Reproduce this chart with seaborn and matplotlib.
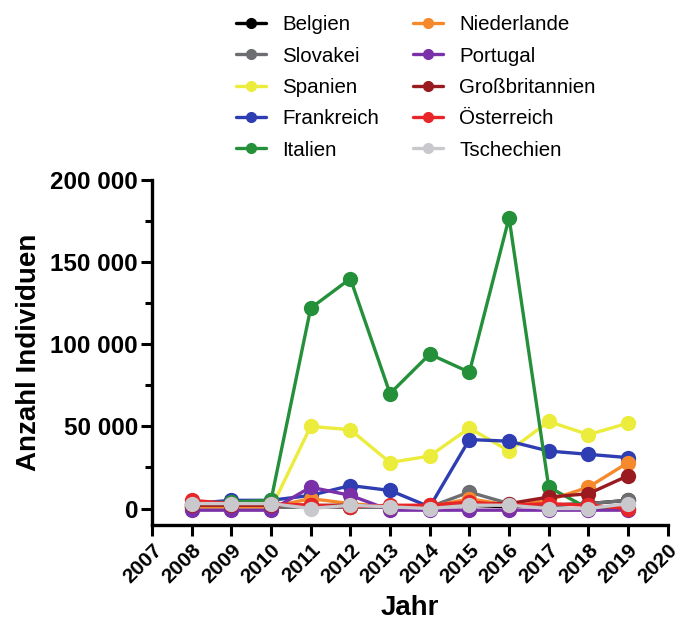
import matplotlib
matplotlib.use("Agg")
import matplotlib.pyplot as plt
import matplotlib.ticker as mticker
from matplotlib.lines import Line2D
import seaborn as sns
import pandas as pd

years = list(range(2008, 2020))
countries = ["Belgien", "Slovakei", "Spanien", "Frankreich", "Italien",
             "Niederlande", "Portugal", "Großbritannien", "Österreich", "Tschechien"]
colors = ["#000000", "#6d6e71", "#ecec3c", "#2f3db2", "#24903a",
          "#f5892b", "#7a30a8", "#9a1b1f", "#e8262a", "#c9c9cd"]

belgien = [1000, 1000, 1000, 1000, 1000, 1000, 1000, 2000, 1000, 2000, 3000, 5000]
slovakei = [1000, 1000, 1000, 1000, 1000, 1000, 1000, 10000, 3000, 2000, 3000, 5000]
spanien = [0, 0, 0, 50000, 48000, 28000, 32000, 49000, 35000, 53000, 45000, 52000]
frankreich = [3000, 5000, 5000, 8000, 14000, 11000, 1000, 42000, 41000, 35000, 33000, 31000]
italien = [3000, 4000, 5000, 122000, 140000, 70000, 94000, 83000, 177000, 13000, 0, 0]
niederlande = [1000, 1000, 1000, 6000, 3000, 1000, 1000, 6000, 2000, 5000, 13000, 28000]
portugal = [-1000, -1000, -1000, 13000, 8000, -1000, -1000, -1000, -1000, -1000, -1000, -1000]
grossbritannien = [2000, 2000, 2000, 2000, 2000, 1000, 2000, 3000, 3000, 7000, 9000, 20000]
oesterreich = [5000, 3000, 3000, 2000, 1000, 2000, 2000, 4000, 2000, 3000, 2000, 0]
tschechien = [3000, 3000, 3000, 0, 2000, 1000, 0, 2000, 2000, 0, 0, 3000]

series = [belgien, slovakei, spanien, frankreich, italien,
          niederlande, portugal, grossbritannien, oesterreich, tschechien]

rows = []
for c, vals in zip(countries, series):
    for y, v in zip(years, vals):
        rows.append({"Jahr": y, "Wert": v, "Land": c})
df = pd.DataFrame(rows)

sns.set_style("ticks", {"axes.edgecolor": "black", "text.color": "black",
                        "axes.labelcolor": "black", "xtick.color": "black",
                        "ytick.color": "black"})
plt.rcParams["font.family"] = ["Liberation Sans", "DejaVu Sans"]

fig = plt.figure(figsize=(6.8, 6.34), dpi=100)
ax = fig.add_axes([0.2235, 0.172, 0.7585, 0.544])

palette = dict(zip(countries, colors))
sns.lineplot(data=df, x="Jahr", y="Wert", hue="Land", hue_order=countries,
             palette=palette, marker="o", markersize=11, markeredgewidth=0,
             linewidth=2.4, legend=False, ax=ax)

ax.set_xlim(2007, 2020)
ax.set_ylim(-10000, 200000)
ax.set_xticks(range(2007, 2021))
ax.set_xticklabels([str(y) for y in range(2007, 2021)], rotation=45,
                   ha="right", rotation_mode="anchor", fontsize=15, fontweight="bold")
ax.set_yticks([0, 50000, 100000, 150000, 200000])
ax.yaxis.set_minor_locator(mticker.FixedLocator([25000, 75000, 125000, 175000]))
ax.yaxis.set_major_formatter(mticker.FuncFormatter(lambda v, p: f"{int(v):,}".replace(",", " ")))
ax.tick_params(axis="both", which="major", width=2.2, length=8, color="black", labelcolor="black")
ax.tick_params(axis="y", labelsize=17.5, pad=2)
ax.tick_params(axis="x", labelsize=15, pad=3)
ax.tick_params(axis="y", which="minor", width=2.2, length=5, color="black")
for lab in ax.get_yticklabels() + ax.get_xticklabels():
    lab.set_fontweight("bold")
for s in ["left", "bottom"]:
    ax.spines[s].set_linewidth(2.4)
    ax.spines[s].set_color("black")
ax.spines["top"].set_visible(False)
ax.spines["right"].set_visible(False)

ax.set_xlabel("Jahr", fontsize=20, fontweight="bold", labelpad=6, color="black")
ax.set_ylabel("Anzahl Individuen", fontsize=20, fontweight="bold", labelpad=6, color="black")

handles = [Line2D([0], [0], color=col, marker="o", markersize=7, linewidth=2.4)
           for col in colors]
leg = fig.legend(handles, countries, loc="upper left", bbox_to_anchor=(0.32, 1.005),
                 ncol=2, frameon=False, fontsize=14.8, handlelength=1.45,
                 columnspacing=1.65, labelspacing=0.6, handletextpad=0.8)
for t in leg.get_texts():
    t.set_color("black")

fig.savefig("out.png", dpi=100)
